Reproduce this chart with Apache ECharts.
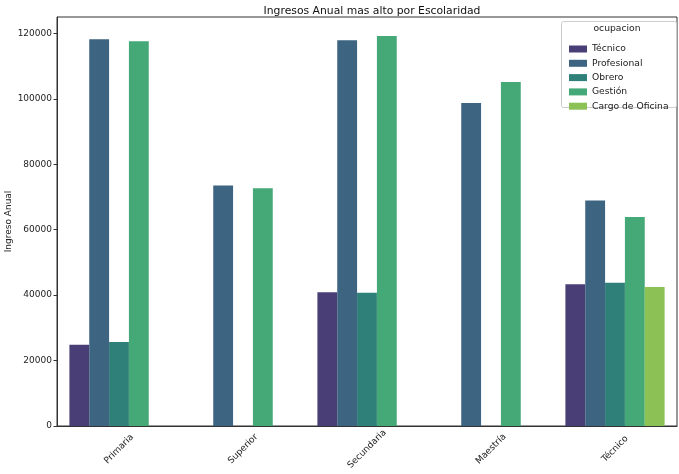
<!DOCTYPE html>
<html><head><meta charset="utf-8">
<script src="https://cdn.jsdelivr.net/npm/echarts@6/dist/echarts.min.js"></script>
<style>html,body{margin:0;padding:0;background:#fff}#c{width:679px;height:474px}</style>
</head><body><div id="c"></div>
<script>
const categories = ['Primaria', 'Superior', 'Secundaria', 'Maestría', 'Técnico'];
const seriesNames = ['Técnico', 'Profesional', 'Obrero', 'Gestión', 'Cargo de Oficina'];
const tecnico   = [24800, null, 40900, null, 43350];
const profesional = [118200, 73500, 117900, 98700, 68900];
const obrero    = [25650, null, 40750, null, 43750];
const gestion   = [117600, 72650, 119200, 105100, 63900];
const cargo     = [null, null, null, null, 42500];
const yTicks = [0, 20000, 40000, 60000, 80000, 100000, 120000];
const colors = ['#4a3e77', '#3d6581', '#2e8079', '#45a877', '#8bc155'];
const values = [tecnico, profesional, obrero, gestion, cargo];
const font = 'DejaVu Sans';
const chart = echarts.init(document.getElementById('c'), null, {renderer: 'canvas'});
chart.setOption({
  animation: false,
  textStyle: {fontFamily: font},
  title: {
    text: 'Ingresos Anual mas alto por Escolaridad',
    left: 367, top: 1, textAlign: 'center',
    textStyle: {fontFamily: font, fontSize: 10.8, fontWeight: 'normal', color: '#111'}
  },
  grid: {left: 57, right: 2, top: 17, bottom: 48, show: true, borderColor: '#333', borderWidth: 1,
    backgroundColor: 'transparent', containLabel: false, outerBoundsMode: 'none'},
  legend: {
    data: seriesNames, orient: 'vertical', left: 564, top: 38,
    itemWidth: 18, itemHeight: 7, itemGap: 2.3, icon: 'rect',
    textStyle: {fontFamily: font, fontSize: 9.2, color: '#222', lineHeight: 12}
  },
  graphic: [
    {type: 'rect', shape: {x: 561.5, y: 21.5, width: 115, height: 86, r: 2}, style: {fill: 'rgba(255,255,255,0.8)', stroke: '#ccc', lineWidth: 1}, z: 1},
    {type: 'text', x: 617, y: 24, style: {text: 'ocupacion', font: '9.2px "DejaVu Sans"', fill: '#222', textAlign: 'center'}, z: 2}
  ],
  xAxis: {
    type: 'category', data: categories,
    axisLine: {lineStyle: {color: '#333'}},
    axisTick: {alignWithLabel: true, length: 3.5, lineStyle: {color: '#333'}},
    axisLabel: {rotate: 45, align: 'center', verticalAlign: 'middle', margin: 23, fontFamily: font, fontSize: 9, color: '#222'}
  },
  yAxis: {
    type: 'value', min: 0, max: 125000, interval: 20000,
    name: 'Ingreso Anual', nameLocation: 'middle', nameGap: 44, nameMoveOverlap: false,
    nameTextStyle: {fontFamily: font, fontSize: 9, color: '#222'},
    splitLine: {show: false},
    axisLine: {show: true, lineStyle: {color: '#333'}},
    axisTick: {show: true, length: 3.5, lineStyle: {color: '#333'}},
    axisLabel: {showMaxLabel: false, fontFamily: font, fontSize: 9, color: '#222', margin: 5,
      formatter: v => yTicks.includes(v) ? String(v) : ''}
  },
  series: seriesNames.map((n, i) => ({
    name: n, type: 'bar', data: values[i],
    barGap: '0%', barCategoryGap: '20%',
    itemStyle: {color: colors[i]}, z: 2
  }))
});
</script></body></html>
